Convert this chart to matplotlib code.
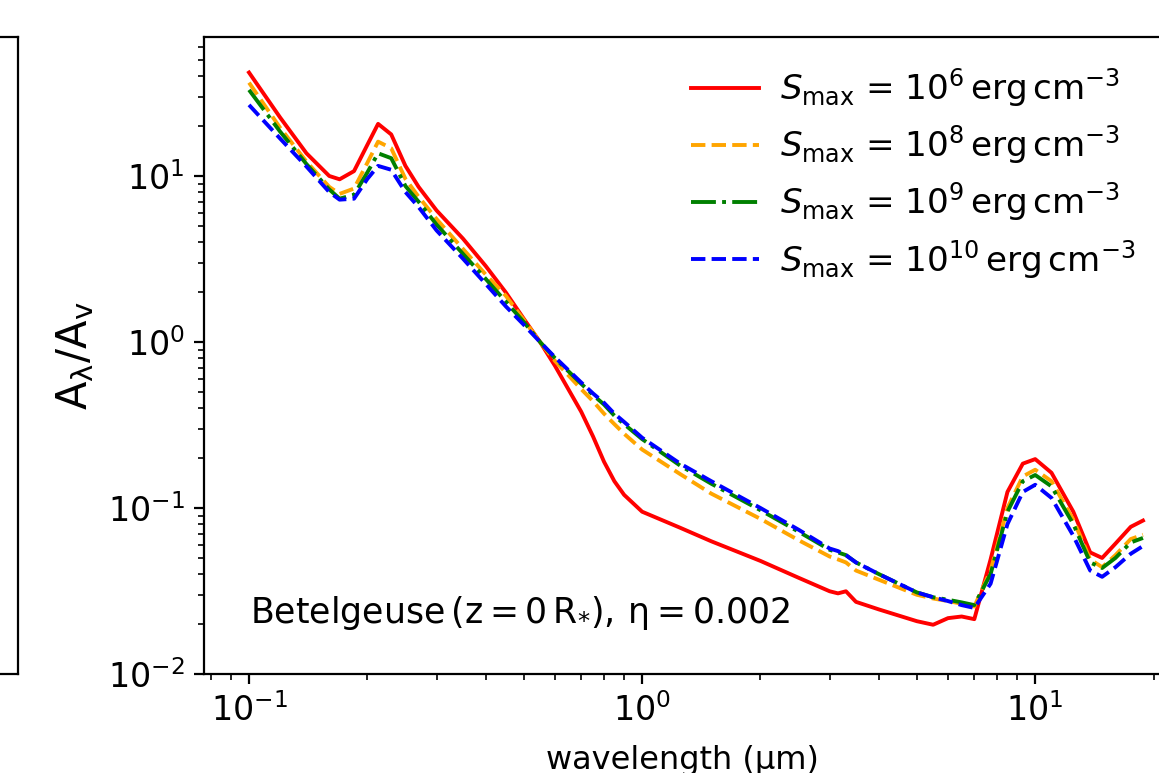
import matplotlib
matplotlib.use("Agg")
import matplotlib.pyplot as plt
import numpy as np

# wavelength grid (micron)
wavelength = [0.1, 0.12, 0.14, 0.16, 0.17, 0.185, 0.2, 0.213, 0.23, 0.25, 0.27, 0.3,
              0.35, 0.4, 0.45, 0.5, 0.55, 0.6, 0.7, 0.75, 0.8, 0.85, 0.9, 1.0, 1.25, 1.5, 2.0, 2.5,
              3.0, 3.15, 3.3, 3.5, 4.0, 5.0, 5.5, 6.0, 6.5, 7.0, 7.7, 8.5, 9.3, 10.0,
              11.0, 12.5, 13.8, 14.8, 16.0, 17.5, 18.8]

ext_s6 = [42, 22.5, 13.7, 10.0, 9.55, 10.7, 15.4, 20.6, 17.8, 11.5, 8.6, 6.2,
          4.2, 2.87, 1.99, 1.38, 1.0, 0.72, 0.38, 0.27, 0.19, 0.145, 0.12, 0.095, 0.076, 0.063, 0.048, 0.038,
          0.0315, 0.0306, 0.0315, 0.0272, 0.0245, 0.0208, 0.0198, 0.0217, 0.0222, 0.0214, 0.049, 0.125, 0.185, 0.197,
          0.163, 0.095, 0.054, 0.050, 0.061, 0.077, 0.084]

ext_s8 = [36.5, 19.5, 12.2, 8.6, 7.8, 8.4, 12.0, 16.1, 14.7, 9.6, 7.5, 5.5,
          3.64, 2.55, 1.9, 1.36, 1.0, 0.77, 0.52, 0.44, 0.37, 0.32, 0.28, 0.225, 0.16, 0.122, 0.086, 0.064,
          0.051, 0.049, 0.047, 0.042, 0.037, 0.030, 0.0285, 0.0275, 0.0265, 0.0255, 0.042, 0.10, 0.155, 0.17,
          0.145, 0.085, 0.049, 0.044, 0.052, 0.065, 0.069]

ext_s9 = [33, 18.5, 11.8, 8.3, 7.3, 7.7, 10.5, 13.7, 12.8, 8.7, 7.0, 5.1,
          3.4, 2.4, 1.75, 1.32, 1.0, 0.80, 0.56, 0.48, 0.42, 0.36, 0.32, 0.26, 0.18, 0.14, 0.097, 0.072,
          0.056, 0.054, 0.052, 0.047, 0.040, 0.031, 0.029, 0.028, 0.027, 0.026, 0.040, 0.095, 0.145, 0.158,
          0.135, 0.080, 0.047, 0.0435, 0.050, 0.062, 0.066]

ext_s10 = [26.8, 16.8, 11.4, 8.0, 7.2, 7.3, 9.6, 11.5, 10.9, 8.0, 6.5, 4.7,
           3.18, 2.24, 1.64, 1.27, 1.0, 0.81, 0.57, 0.49, 0.43, 0.37, 0.33, 0.265, 0.185, 0.145, 0.10, 0.074,
           0.057, 0.055, 0.052, 0.047, 0.040, 0.031, 0.029, 0.0275, 0.026, 0.025, 0.035, 0.08, 0.125, 0.138,
           0.115, 0.068, 0.042, 0.0385, 0.044, 0.053, 0.059]

labels = [r"$S_{\rm max}$ = $10^{6}\,\mathrm{erg\,cm^{-3}}$",
          r"$S_{\rm max}$ = $10^{8}\,\mathrm{erg\,cm^{-3}}$",
          r"$S_{\rm max}$ = $10^{9}\,\mathrm{erg\,cm^{-3}}$",
          r"$S_{\rm max}$ = $10^{10}\,\mathrm{erg\,cm^{-3}}$"]

W, H = 1159, 773
fig = plt.figure(figsize=(W / 200, H / 200), dpi=200)

# partial neighbouring panel on the left (cropped)
ax0 = fig.add_axes([-0.5, (H - 674) / H, 0.5 + 18 / W, (674 - 36.7) / H])
ax0.set_xticks([])
ax0.set_yticks([])

left_px, right_px = 204, 1161
ax = fig.add_axes([left_px / W, (H - 674) / H, (right_px - left_px) / W, (674 - 36.7) / H])
lw = 1.4
ax.plot(wavelength, ext_s6, color="red", ls="-", lw=lw, label=labels[0])
ax.plot(wavelength, ext_s8, color="orange", ls="--", lw=lw, label=labels[1])
ax.plot(wavelength, ext_s9, color="green", ls="-.", lw=lw, label=labels[2])
ax.plot(wavelength, ext_s10, color="blue", ls="--", lw=lw, label=labels[3])
ax.set_xscale("log")
ax.set_yscale("log")
ax.set_xlim(10 ** -1.1145, 10 ** 1.320)
ax.set_ylim(1e-2, 10 ** 1.839)
ax.tick_params(axis="both", which="major", labelsize=12)
ax.set_xlabel("wavelength (μm)", fontsize=11.5, labelpad=6)
ax.set_ylabel(r"$\mathrm{A_{\lambda}/A_{v}}$", fontsize=15)
ax.text((250 - left_px) / (right_px - left_px), 0.08,
        r"Betelgeuse$\,\mathrm{(z=0\,R_{*}),\,\eta=0.002}$",
        transform=ax.transAxes, fontsize=12.5)
ax.legend(loc="upper right", frameon=False, fontsize=12.3,
          bbox_to_anchor=((1149 - left_px) / (right_px - left_px), 0.975),
          borderaxespad=0.0, labelspacing=0.42, handletextpad=0.6)

fig.savefig("out.png", dpi=200)
